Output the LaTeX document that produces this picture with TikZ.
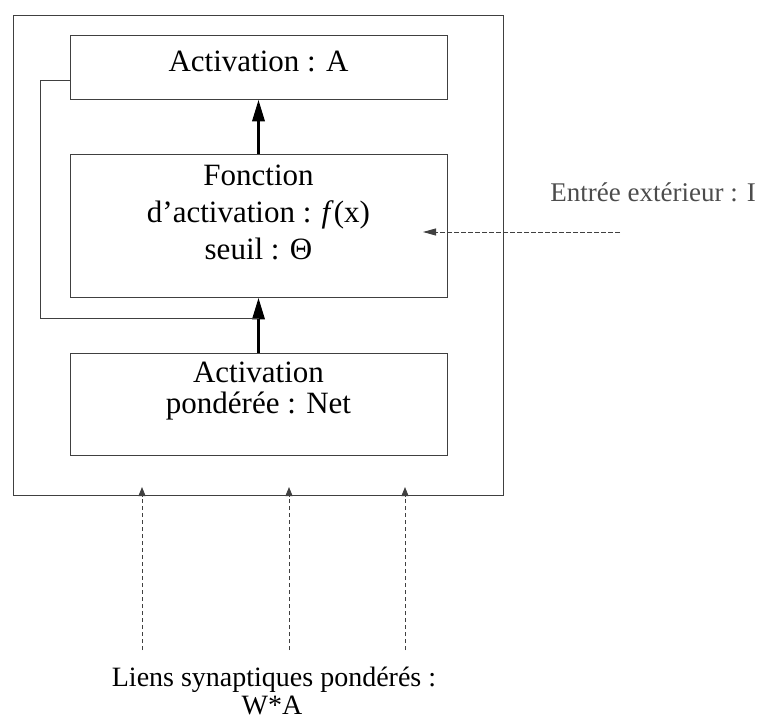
\documentclass[tikz,border=0pt]{standalone}
\usepackage{fontspec}
\setmainfont{Liberation Serif}
\usetikzlibrary{arrows.meta}
\begin{document}
\begin{tikzpicture}[x=1pt,y=-1pt,
  box/.style={draw=black!75, line width=0.9pt, minimum width=377pt, inner sep=0pt},
  frame/.style={draw=black!75, line width=0.9pt, inner sep=0pt},
  wire/.style={draw=black!75, line width=0.9pt},
  feedwire/.style={draw=black!75, line width=0.9pt, dash pattern=on 5pt off 2pt},
  bigarrow/.style={draw=black, line width=3.5pt, -{Triangle[length=22pt,width=12pt]}},
  inarrow/.style={draw=black!75, line width=0.9pt, dash pattern=on 4pt off 3pt,
    -{Triangle[length=9pt,width=7pt]}},
  lbl/.style={inner sep=0pt, align=center, text=black},
]
\useasboundingbox (0,0) rectangle (760,719);

% neuron cell and its three stages
\node[frame, minimum width=490pt, minimum height=480pt] (cell) at (258,255) {};
\node[box, minimum height=64pt]  (act) at (258.5,67)    {};
\node[box, minimum height=143pt] (fct) at (258.5,225.5) {};
\node[box, minimum height=102pt] (net) at (258.5,404)   {};

% stage labels
\node[lbl, anchor=base, font=\fontsize{31}{37}\selectfont] (actlbl) at (258.5,72) {Activation : A};
\node[lbl, anchor=north, font=\fontsize{31}{37}\selectfont] (fctlbl) at (258.5,164.5)
  {Fonction\\d’activation : \textit{f}(x)\\seuil : Θ};
\node[lbl, anchor=north, font=\fontsize{31}{31}\selectfont] (netlbl) at (258.5,361.5)
  {Activation\\pondérée : Net};

% flow between stages
\draw[bigarrow] (fct.north) -- (act.south);
\draw[bigarrow] (net.north) -- (fct.south);

% feedback of the activation into the threshold stage
\coordinate (loopcorner) at (40,318);
\coordinate (loopjoin) at (258.5,318);
\draw[wire] ([yshift=-13pt]act.west) -| (loopcorner) -- (loopjoin);

% external input
\node[lbl, anchor=base east, text=black!70, font=\fontsize{27}{32}\selectfont] (extlbl) at (756,202)
  {Entrée extérieur : I};
\coordinate (extsrc) at (620,232);
\coordinate (extdst) at (423,232);
\draw[feedwire, -{Triangle[length=13pt,width=7pt]}] (extsrc) -- (extdst);

% weighted synaptic inputs
\coordinate (in1) at (142,650); \coordinate (in1t) at (142,487);
\coordinate (in2) at (289,650); \coordinate (in2t) at (289,487);
\coordinate (in3) at (405,650); \coordinate (in3t) at (405,487);
\draw[inarrow] (in1) -- (in1t);
\draw[inarrow] (in2) -- (in2t);
\draw[inarrow] (in3) -- (in3t);

\node[lbl, anchor=base, font=\fontsize{28}{30}\selectfont] (synlbl) at (274,686)
  {Liens synaptiques pondérés :};
\node[lbl, anchor=base, font=\fontsize{28}{30}\selectfont] (wlbl) at (272,714) {W*A};
\end{tikzpicture}
\end{document}
